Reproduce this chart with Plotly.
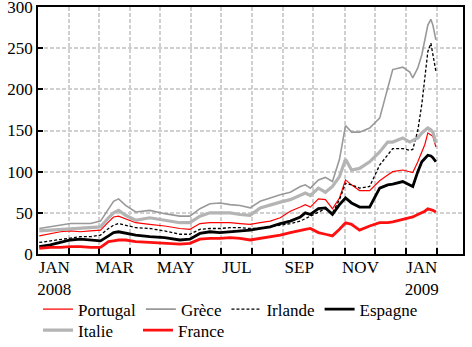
import plotly.graph_objects as go
import pandas as pd

dates = ["2008-01-02", "2008-01-13", "2008-01-23", "2008-02-02", "2008-02-12", "2008-02-22",
         "2008-03-03", "2008-03-11", "2008-03-16", "2008-03-21", "2008-03-28", "2008-04-07",
         "2008-04-21", "2008-05-06", "2008-05-21", "2008-05-31", "2008-06-10", "2008-06-20",
         "2008-06-30", "2008-07-10", "2008-07-20", "2008-07-30", "2008-08-09", "2008-08-19",
         "2008-08-29", "2008-09-08", "2008-09-18", "2008-09-23", "2008-09-28", "2008-10-06",
         "2008-10-13", "2008-10-20", "2008-10-27", "2008-11-02", "2008-11-08", "2008-11-16",
         "2008-11-26", "2008-12-06", "2008-12-14", "2008-12-19", "2008-12-29", "2009-01-05",
         "2009-01-08", "2009-01-13", "2009-01-17", "2009-01-20", "2009-01-23", "2009-01-26",
         "2009-01-28", "2009-01-31"]

grece = [31, 33, 35, 37, 37, 37, 40, 55, 64, 67, 59, 51, 53, 49, 46, 46, 55, 61, 62, 60,
         59, 56, 64, 68, 72, 75, 82, 84, 80, 90, 93, 88, 115, 156, 148, 148, 153, 165, 200, 224,
         227, 221, 214, 226, 242, 260, 278, 285, 278, 260]
italie = [28, 29, 30, 31, 31, 32, 33, 44, 50, 53, 47, 41, 44, 41, 38, 38, 46, 50, 50, 50,
          48, 47, 56, 60, 63, 66, 72, 74, 71, 80, 75, 82, 94, 115, 102, 104, 112, 124, 136, 136,
          141, 136, 138, 141, 147, 150, 153, 151, 148, 135]
portugal = [22, 25, 27, 28, 27, 28, 29, 39, 45, 46, 43, 38, 36, 34, 31, 30, 37, 38, 38, 38,
            37, 36, 38, 40, 44, 52, 57, 60, 57, 67, 66, 55, 68, 90, 84, 77, 77, 89, 96, 100,
            102, 100, 99, 112, 125, 133, 147, 145, 143, 130]
irlande = [14, 16, 18, 20, 21, 21, 23, 31, 35, 37, 35, 32, 31, 28, 24, 24, 30, 31, 31, 32,
           32, 31, 31, 33, 35, 37, 40, 43, 45, 50, 55, 50, 66, 86, 84, 80, 82, 108, 120, 128,
           128, 126, 127, 150, 182, 214, 246, 256, 240, 222]
espagne = [9, 11, 14, 17, 18, 17, 16, 22, 26, 27, 25, 23, 21, 20, 17, 18, 25, 27, 26, 27,
           28, 29, 31, 33, 37, 40, 45, 50, 48, 55, 56, 48, 60, 68, 62, 57, 57, 80, 84, 85,
           88, 84, 82, 100, 112, 116, 120, 119, 117, 112]
france = [7, 8, 8, 9, 9, 8, 8, 15, 16, 17, 17, 15, 14, 13, 12, 13, 18, 19, 19, 20,
          19, 17, 19, 21, 23, 26, 29, 30, 31, 26, 24, 22, 30, 38, 36, 29, 34, 38, 38, 39,
          42, 44, 45, 48, 50, 52, 55, 54, 53, 51]

month_starts = [d.strftime("%Y-%m-%d") for d in pd.date_range("2008-01-01", "2009-02-01", freq="MS")]
month_labels = ["JAN<br>2008", "", "MAR", "", "MAY", "", "JUL", "", "SEP", "", "NOV", "",
                "JAN<br>2009", ""]
y_ticks = [0, 50, 100, 150, 200, 250, 300]
x_range = ["2007-12-31 18:00", "2009-02-27"]

series = [
    ("Portugal", portugal, dict(color="#ff0000", width=1.2), "legend"),
    ("Grèce", grece, dict(color="#999999", width=1.6), "legend"),
    ("Irlande", irlande, dict(color="black", width=1.3, dash="3px,2px"), "legend"),
    ("Espagne", espagne, dict(color="black", width=2.8), "legend"),
    ("Italie", italie, dict(color="#b4b4b4", width=3.2), "legend2"),
    ("France", france, dict(color="#ff1010", width=2.8), "legend2"),
]

FONT = "Liberation Serif"
GRID = "#d0d0d0"

fig = go.Figure()
for name, vals, line, lg in series:
    fig.add_trace(go.Scatter(x=dates, y=vals, mode="lines", name=name, line=line, legend=lg))

fig.update_layout(
    width=472, height=347,
    margin=dict(l=38, r=9, t=7, b=93, autoexpand=False),
    paper_bgcolor="white", plot_bgcolor="rgba(0,0,0,0)",
    font=dict(family=FONT, size=17, color="black"),
    xaxis=dict(
        type="date", range=x_range,
        tickmode="array", tickvals=month_starts, ticktext=month_labels, ticklabelshift=16,
        ticklabelstandoff=-3,
        ticks="inside", ticklen=6, tickwidth=1.5, tickcolor="black",
        showgrid=True, gridcolor=GRID, gridwidth=1.5, griddash="4px,2px", layer="below traces",
        zeroline=False, showline=True, linecolor="black", linewidth=1.5, mirror=True,
        tickfont=dict(family=FONT, size=17, color="black"),
    ),
    yaxis=dict(
        range=[0, 300], tickmode="array", tickvals=y_ticks,
        ticks="inside", ticklen=5, tickwidth=1.5, tickcolor="black",
        ticklabeloverflow="allow",
        showgrid=True, gridcolor=GRID, gridwidth=1.5, griddash="4px,2px",
        zeroline=False, showline=True, linecolor="black", linewidth=1.5, mirror=True,
        tickfont=dict(family=FONT, size=17, color="black"),
    ),
    legend=dict(orientation="h", x=0, xanchor="left", y=-0.152, yanchor="top",
                bgcolor="rgba(0,0,0,0)", font=dict(family=FONT, size=17)),
    legend2=dict(orientation="h", x=0, xanchor="left", y=-0.237, yanchor="top",
                 entrywidth=55, bgcolor="rgba(0,0,0,0)", font=dict(family=FONT, size=17)),
)

fig.write_html("out.html")
